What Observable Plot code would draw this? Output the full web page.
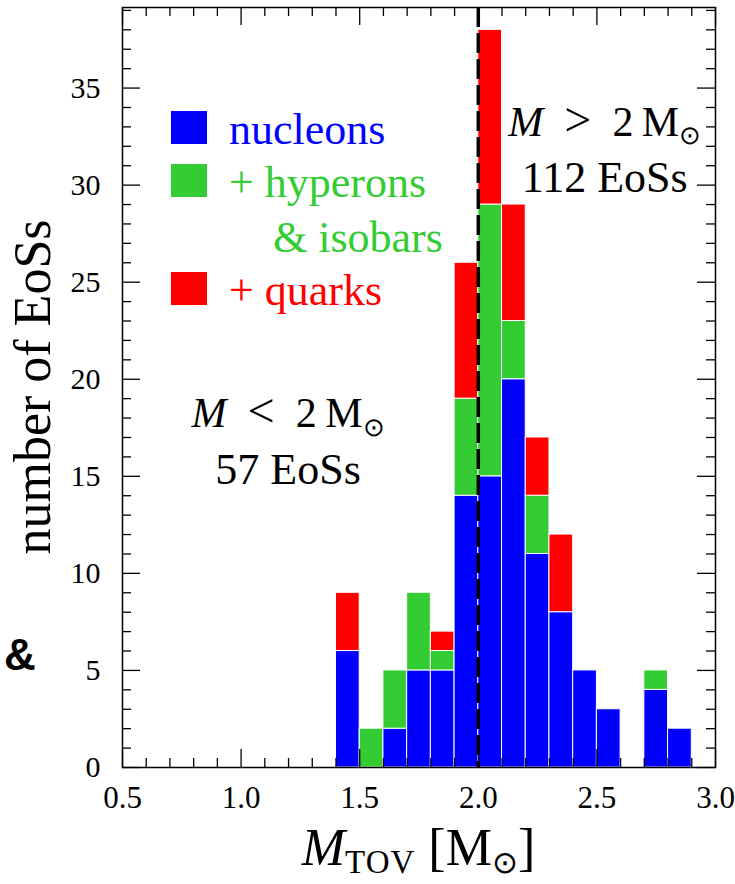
<!DOCTYPE html>
<html>
<head>
<meta charset="utf-8">
<script src="https://cdn.jsdelivr.net/npm/d3@7"></script>
<script src="https://cdn.jsdelivr.net/npm/@observablehq/plot@0.6"></script>
<style>
  body { margin: 0; background: #fff; }
  #chart svg { display: block; }
</style>
</head>
<body>
<div id="chart"></div>
<script>
// Histogram of maximum (TOV) masses, stacked by particle content of the EoS
const binStart = [1.4, 1.5, 1.6, 1.7, 1.8, 1.9, 2.0, 2.1, 2.2, 2.3, 2.4, 2.5, 2.6, 2.7, 2.8];
const binWidth = 0.1;
const nucleons = [6, 0, 2, 5, 5, 14, 15, 20, 11, 8, 5, 3, 0, 4, 2];
const hyperons = [0, 2, 3, 4, 1, 5, 14, 3, 3, 0, 0, 0, 0, 1, 0];
const quarks   = [3, 0, 0, 0, 1, 7, 9, 6, 3, 4, 0, 0, 0, 0, 0];

const seriesKeys = ["nucleons", "hyperons", "quarks"];
const seriesColors = ["#0000ff", "#33cc33", "#ff0000"];
const legendLines = [["nucleons"], ["+ hyperons", "& isobars"], ["+ quarks"]];

const xTickLabels = [0.5, 1.0, 1.5, 2.0, 2.5, 3.0];
const yTickLabels = [0, 5, 10, 15, 20, 25, 30, 35];
const massLimit = 2.0;
const countBelow = 57;
const countAbove = 112;

// long-format table for the stacked rects
const seriesValues = {nucleons, hyperons, quarks};
const rows = [];
binStart.forEach((lo, i) => {
  seriesKeys.forEach(key => {
    const n = seriesValues[key][i];
    if (n > 0) rows.push({lo, hi: lo + binWidth, key, n});
  });
});

const W = 735, H = 884;
const mL = 122, mR = 20, mT = 7, mB = 117;
const innerW = W - mL - mR, innerH = H - mT - mB;
const minorLen = 9, majorLen = 18;

const xMinor = d3.range(5, 31).map(i => i / 10).filter(v => Math.abs(v * 2 - Math.round(v * 2)) > 1e-9);
const yMinor = d3.range(1, 40).filter(v => v % 5 !== 0);

const chart = Plot.plot({
  width: W,
  height: H,
  marginLeft: mL,
  marginRight: mR,
  marginTop: mT,
  marginBottom: mB,
  style: {fontFamily: "'Liberation Serif', serif", background: "#fff", color: "#000"},
  x: {domain: [0.5, 3.0], label: null},
  y: {domain: [0, 39.15], label: null},
  color: {domain: seriesKeys, range: seriesColors},
  marks: [
    Plot.rectY(rows, {x1: "lo", x2: "hi", y: "n", fill: "key", stroke: "#fff", strokeWidth: 1}),
    Plot.ruleX([massLimit], {stroke: "#000", strokeWidth: 3.5, strokeDasharray: "20,6"}),
    // inward ticks on all four sides
    Plot.tickX(xMinor, {x: d => d, insetTop: innerH - minorLen, stroke: "#000", strokeWidth: 1.3}),
    Plot.tickX(xMinor, {x: d => d, insetBottom: innerH - minorLen, stroke: "#000", strokeWidth: 1.3}),
    Plot.tickX(xTickLabels, {x: d => d, insetTop: innerH - majorLen, stroke: "#000", strokeWidth: 1.3}),
    Plot.tickX(xTickLabels, {x: d => d, insetBottom: innerH - majorLen, stroke: "#000", strokeWidth: 1.3}),
    Plot.tickY(yMinor, {y: d => d, insetRight: innerW - minorLen, stroke: "#000", strokeWidth: 1.3}),
    Plot.tickY(yMinor, {y: d => d, insetLeft: innerW - minorLen, stroke: "#000", strokeWidth: 1.3}),
    Plot.tickY(yTickLabels, {y: d => d, insetRight: innerW - majorLen, stroke: "#000", strokeWidth: 1.3}),
    Plot.tickY(yTickLabels, {y: d => d, insetLeft: innerW - majorLen, stroke: "#000", strokeWidth: 1.3}),
    Plot.frame({stroke: "#000", strokeWidth: 1.5}),
    Plot.axisX(xTickLabels, {tickSize: 0, tickPadding: 18, fontSize: 31, tickFormat: d3.format(".1f"), label: null}),
    Plot.axisY(yTickLabels, {tickSize: 0, tickPadding: 22, fontSize: 30, label: null})
  ]
});

document.getElementById("chart").appendChild(chart);

const svg = d3.select(chart);
const sx = chart.scale("x"), sy = chart.scale("y");
const serif = "'Liberation Serif', serif";

// M ≶ 2 M⊙ labels with italic M and subscript sun symbol
function massLabel(g, x, y, relation, size) {
  const t = g.append("text")
    .attr("x", x).attr("y", y)
    .attr("text-anchor", "middle")
    .attr("font-family", serif)
    .attr("font-size", size)
    .attr("fill", "#000");
  t.append("tspan").attr("font-style", "italic").text("M");
  t.append("tspan").text("\u2002");
  t.append("tspan").attr("font-size", size * 1.15).text(relation);
  t.append("tspan").text("\u20022\u2009M");
  t.append("tspan").attr("font-size", size * 0.62).attr("dy", size * 0.2).text("\u2299");
  return t;
}

const annSize = 44;
const ann = svg.append("g");
massLabel(ann, sx.apply(2.535), sy.apply(32.5), ">", 42);
ann.append("text")
  .attr("x", sx.apply(2.535)).attr("y", sy.apply(29.6))
  .attr("text-anchor", "middle").attr("font-family", serif).attr("font-size", annSize)
  .text(`${countAbove} EoSs`);
massLabel(ann, sx.apply(1.2), sy.apply(17.5), "<", 42);
ann.append("text")
  .attr("x", sx.apply(1.2)).attr("y", sy.apply(14.57))
  .attr("text-anchor", "middle").attr("font-family", serif).attr("font-size", annSize)
  .text(`${countBelow} EoSs`);

// legend inside the frame
const legend = svg.append("g").attr("transform", `translate(${mL + 49},${mT + 104})`);
const rowOffsets = [0, 53, 161];
legendLines.forEach((lines, i) => {
  const y0 = rowOffsets[i];
  legend.append("rect")
    .attr("x", 0).attr("y", y0).attr("width", 36).attr("height", 33)
    .attr("fill", seriesColors[i]);
  lines.forEach((line, j) => {
    legend.append("text")
      .attr("x", j === 0 ? 58 : 102)
      .attr("y", y0 + 33 + j * 55)
      .attr("text-anchor", "start")
      .attr("font-family", serif).attr("font-size", 44)
      .attr("fill", seriesColors[i])
      .text(line);
  });
});

// axis titles
svg.append("text")
  .attr("transform", `translate(50,${mT + innerH / 2}) rotate(-90)`)
  .attr("text-anchor", "middle")
  .attr("font-family", serif).attr("font-size", 52)
  .text("number of EoSs");

const xt = svg.append("text")
  .attr("x", mL + innerW / 2).attr("y", 865)
  .attr("text-anchor", "middle")
  .attr("font-family", serif).attr("font-size", 52);
xt.append("tspan").attr("font-style", "italic").text("M");
xt.append("tspan").attr("font-size", 33).attr("dy", 8).attr("letter-spacing", 1).text("TOV");
xt.append("tspan").attr("dy", -8).text(" [M");
xt.append("tspan").attr("font-size", 31).attr("dy", 8).text("\u2299");
xt.append("tspan").attr("dy", -8).text("]");

svg.append("text")
  .attr("x", 4).attr("y", 670)
  .attr("text-anchor", "start")
  .attr("font-family", "'Liberation Sans', sans-serif")
  .attr("font-weight", "bold").attr("font-size", 44)
  .text("&");
</script>
</body>
</html>
